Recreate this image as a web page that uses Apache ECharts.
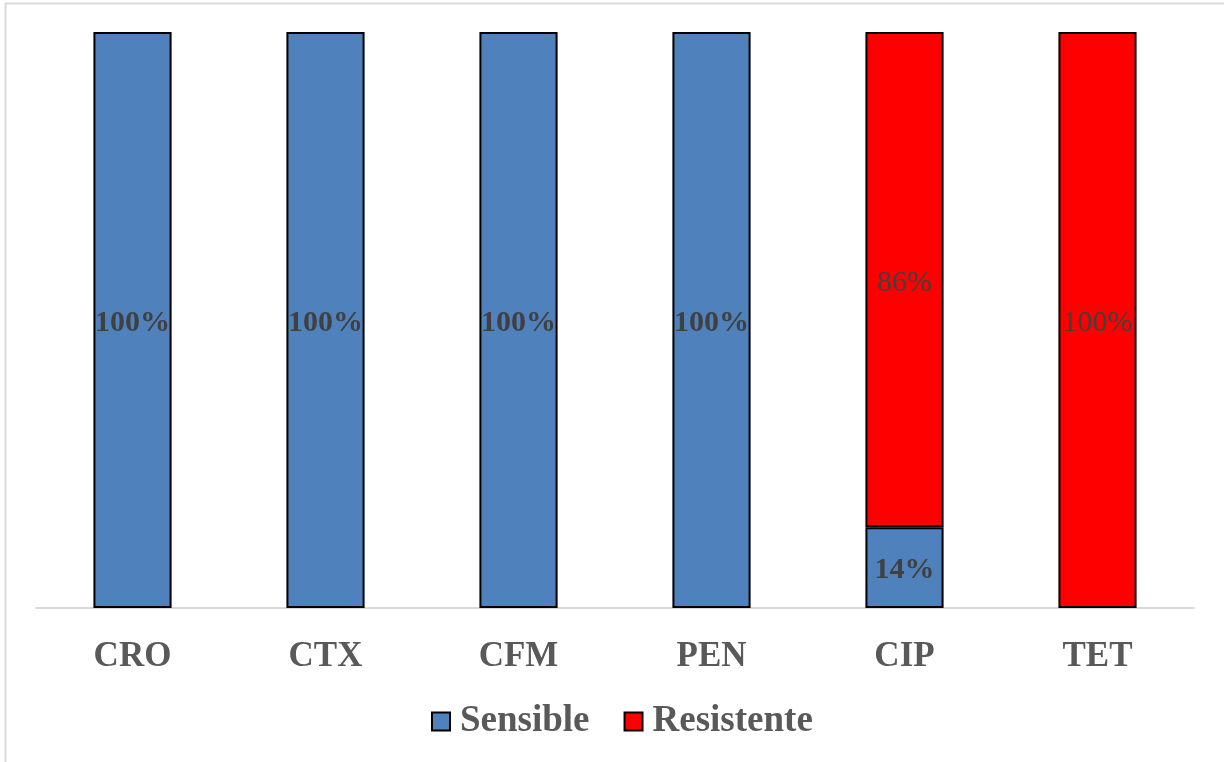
<!DOCTYPE html>
<html><head><meta charset="utf-8">
<script src="https://cdn.jsdelivr.net/npm/echarts@6/dist/echarts.min.js"></script>
<style>html,body{margin:0;padding:0;background:#fff}#c{width:1224px;height:762px}</style>
</head><body><div id="c"></div>
<script>
const categories = ['CRO','CTX','CFM','PEN','CIP','TET'];
const sensible = [100,100,100,100,14,0];
const resistente = [0,0,0,0,86,100];

const chart = echarts.init(document.getElementById('c'), null, {renderer:'canvas'});
const nz = arr => arr.map(v => v > 0 ? v : null);
const fmt = p => p.value > 0 ? p.value + '%' : '';
chart.setOption({
  animation:false,
  backgroundColor:'#fff',
  graphic:[{type:'rect',shape:{x:5.5,y:3.5,width:1240,height:780},style:{fill:'none',stroke:'#d9d9d9',lineWidth:2},silent:true}],
  grid:{left:36,right:30,top:32,bottom:154,containLabel:false},
  legend:{
    bottom:17,left:426,itemGap:34,itemWidth:18,itemHeight:18,
    icon:'rect',
    itemStyle:{borderColor:'#000',borderWidth:2},
    textStyle:{fontFamily:'Liberation Serif',fontWeight:'bold',fontSize:37,color:'#595959',padding:[0,0,0,5]},
    data:['Sensible','Resistente']
  },
  xAxis:{type:'category',data:categories,
    axisLine:{lineStyle:{color:'#d9d9d9',width:2}},axisTick:{show:false},
    axisLabel:{fontFamily:'Liberation Serif',fontWeight:'bold',fontSize:35,color:'#595959',margin:31}},
  yAxis:{type:'value',min:0,max:100,show:false,splitLine:{show:false}},
  series:[
    {name:'Sensible',type:'bar',stack:'s',data:nz(sensible),barWidth:'40.5%',
     itemStyle:{color:'#4F81BD',borderColor:'#000',borderWidth:2},
     label:{show:true,position:'inside',offset:[0,3],formatter:fmt,fontFamily:'Liberation Serif',fontWeight:'bold',fontSize:30,color:'#404040'}},
    {name:'Resistente',type:'bar',stack:'s',data:nz(resistente),barWidth:'40.5%',
     itemStyle:{color:'#FF0000',borderColor:'#000',borderWidth:2},
     label:{show:true,position:'inside',offset:[0,3],formatter:fmt,fontFamily:'Liberation Serif',fontWeight:'normal',fontSize:30,color:'#404040'}}
  ]
});
</script></body></html>
